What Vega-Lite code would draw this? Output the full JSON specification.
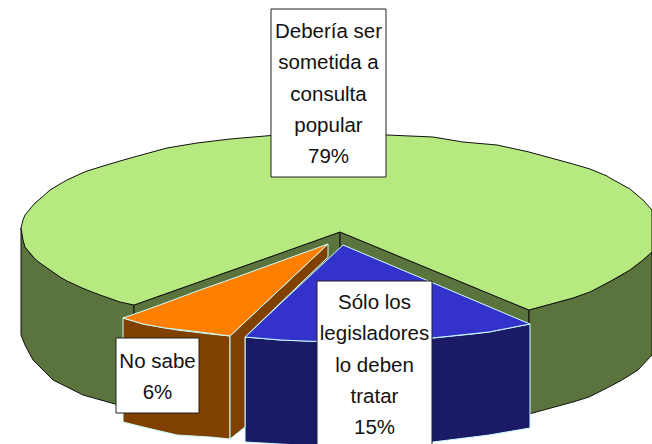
{"$schema":"https://vega.github.io/schema/vega-lite/v6.json","width":652,"height":444,"padding":0,"autosize":"none","background":"white","config":{"view":{"stroke":null}},
"datasets":{"shapes":[
{"part":"wall-a","x":21,"y":228,"y2":335},{"part":"wall-a","x":25,"y":247,"y2":345},{"part":"wall-a","x":33,"y":257,"y2":360},{"part":"wall-a","x":53,"y":272,"y2":380},{"part":"wall-a","x":83,"y":288,"y2":395},{"part":"wall-a","x":115,"y":300,"y2":404},{"part":"wall-a","x":134,"y":305,"y2":408},
{"part":"wall-b","x":134,"y":305,"y2":340},{"part":"wall-b","x":340,"y":232,"y2":345},
{"part":"wall-c","x":340,"y":232,"y2":345},{"part":"wall-c","x":529,"y":310,"y2":330},
{"part":"wall-d","x":529,"y":310,"y2":414},{"part":"wall-d","x":540,"y":307,"y2":411},{"part":"wall-d","x":573,"y":298,"y2":402},{"part":"wall-d","x":589,"y":292,"y2":397},{"part":"wall-d","x":607,"y":283,"y2":388},{"part":"wall-d","x":622,"y":275,"y2":380},{"part":"wall-d","x":638,"y":264,"y2":370},{"part":"wall-d","x":652,"y":252,"y2":355},
{"part":"top-79","x":21,"y":228,"y2":228},{"part":"top-79","x":23,"y":220,"y2":240},{"part":"top-79","x":25,"y":215,"y2":247},{"part":"top-79","x":35,"y":203,"y2":259},{"part":"top-79","x":40,"y":199,"y2":263},{"part":"top-79","x":50,"y":190,"y2":270},{"part":"top-79","x":60,"y":184,"y2":277},{"part":"top-79","x":67,"y":180,"y2":281},{"part":"top-79","x":80,"y":174,"y2":287},{"part":"top-79","x":87,"y":171,"y2":290},{"part":"top-79","x":100,"y":167,"y2":295},{"part":"top-79","x":120,"y":161,"y2":302},{"part":"top-79","x":134,"y":157,"y2":305},{"part":"top-79","x":167,"y":148,"y2":293.3},{"part":"top-79","x":197,"y":143,"y2":282.7},{"part":"top-79","x":230,"y":139,"y2":271},{"part":"top-79","x":271,"y":135.5,"y2":256.6},{"part":"top-79","x":340,"y":134.5,"y2":232},{"part":"top-79","x":387,"y":135,"y2":251.4},{"part":"top-79","x":433,"y":137,"y2":270.4},{"part":"top-79","x":463,"y":142,"y2":282.8},{"part":"top-79","x":497,"y":145,"y2":296.9},{"part":"top-79","x":520,"y":150,"y2":306.3},{"part":"top-79","x":529,"y":152,"y2":310},{"part":"top-79","x":540,"y":155,"y2":307},{"part":"top-79","x":573,"y":164,"y2":298},{"part":"top-79","x":590,"y":169,"y2":292},{"part":"top-79","x":607,"y":176,"y2":283},{"part":"top-79","x":610,"y":178,"y2":281.5},{"part":"top-79","x":630,"y":189,"y2":270},{"part":"top-79","x":643,"y":200,"y2":260},{"part":"top-79","x":652,"y":210,"y2":252},
{"part":"side-15","x":245,"y":337,"y2":442},{"part":"side-15","x":280,"y":340,"y2":444},{"part":"side-15","x":317,"y":341.5,"y2":446},{"part":"side-15","x":380,"y":341.5,"y2":446},{"part":"side-15","x":433,"y":338,"y2":442},{"part":"side-15","x":473,"y":334,"y2":437},{"part":"side-15","x":489,"y":332,"y2":435},{"part":"side-15","x":530,"y":324,"y2":428},
{"part":"top-15","x":245,"y":337,"y2":337},{"part":"top-15","x":280,"y":304,"y2":340},{"part":"top-15","x":317,"y":269.4,"y2":341.5},{"part":"top-15","x":343,"y":245,"y2":342},{"part":"top-15","x":380,"y":260.6,"y2":341.5},{"part":"top-15","x":432,"y":282.5,"y2":338},{"part":"top-15","x":489,"y":306.7,"y2":332},{"part":"top-15","x":530,"y":324,"y2":324},
{"part":"side-6a","x":123,"y":318,"y2":422},{"part":"side-6a","x":143,"y":324,"y2":427},{"part":"side-6a","x":177,"y":330,"y2":435},{"part":"side-6a","x":210,"y":334,"y2":437},{"part":"side-6a","x":230,"y":336,"y2":439},
{"part":"side-6b","x":230,"y":336,"y2":439},{"part":"side-6b","x":245,"y":322,"y2":427},{"part":"side-6b","x":245,"y":322,"y2":337},{"part":"side-6b","x":328,"y":244,"y2":257},
{"part":"top-6","x":123,"y":318,"y2":318},{"part":"top-6","x":143,"y":311,"y2":324},{"part":"top-6","x":165,"y":303,"y2":328},{"part":"top-6","x":200,"y":290,"y2":332},{"part":"top-6","x":230,"y":279.5,"y2":336},{"part":"top-6","x":328,"y":244,"y2":244}
],
"labels":[
{"label":"Debería ser\nsometida a\nconsulta\npopular\n79%","left":271,"right":386,"boxTop":9,"boxBottom":177,"cx":328.5,"cy":32},
{"label":"No sabe\n6%","left":116,"right":199,"boxTop":338,"boxBottom":413,"cx":157.5,"cy":362},
{"label":"Sólo los\nlegisladores\nlo deben\ntratar\n15%","left":317,"right":432,"boxTop":281,"boxBottom":452,"cx":374.5,"cy":303}
]},
"layer":[
{"data":{"name":"shapes"},"mark":{"type":"area","orient":"vertical","strokeWidth":1,"clip":true,"opacity":1},
"encoding":{
"x":{"field":"x","type":"quantitative","scale":{"domain":[0,652],"nice":false,"zero":false},"axis":null},
"y":{"field":"y","type":"quantitative","scale":{"domain":[444,0],"nice":false,"zero":false},"axis":null},
"y2":{"field":"y2"},
"fill":{"field":"part","type":"nominal","legend":null,"sort":null,"scale":{"domain":["wall-a","wall-b","wall-c","wall-d","top-79","side-15","top-15","side-6a","side-6b","top-6"],"range":["#5B733C","#5B733C","#5B733C","#5B733C","#B6E97F","#1A1A66","#3333CC","#804000","#804000","#FF8000"]}},
"stroke":{"field":"part","type":"nominal","legend":null,"sort":null,"scale":{"domain":["wall-a","wall-b","wall-c","wall-d","top-79","side-15","top-15","side-6a","side-6b","top-6"],"range":["#111111","#111111","#111111","#111111","#111111","#CCFFFF","#CCFFFF","#CCFFFF","#CCFFFF","#CCFFFF"]}}
}},
{"data":{"name":"labels"},"mark":{"type":"rect","fill":"white","stroke":"#222222","strokeWidth":1,"clip":true},
"encoding":{"x":{"field":"left","type":"quantitative"},"x2":{"field":"right"},"y":{"field":"boxTop","type":"quantitative"},"y2":{"field":"boxBottom"}}},
{"data":{"name":"labels"},"mark":{"type":"text","font":"Liberation Sans","fontSize":20.5,"lineBreak":"\n","lineHeight":31.3,"align":"center","baseline":"middle","color":"#111111"},
"encoding":{"x":{"field":"cx","type":"quantitative"},"y":{"field":"cy","type":"quantitative"},"text":{"field":"label"}}}
]}
